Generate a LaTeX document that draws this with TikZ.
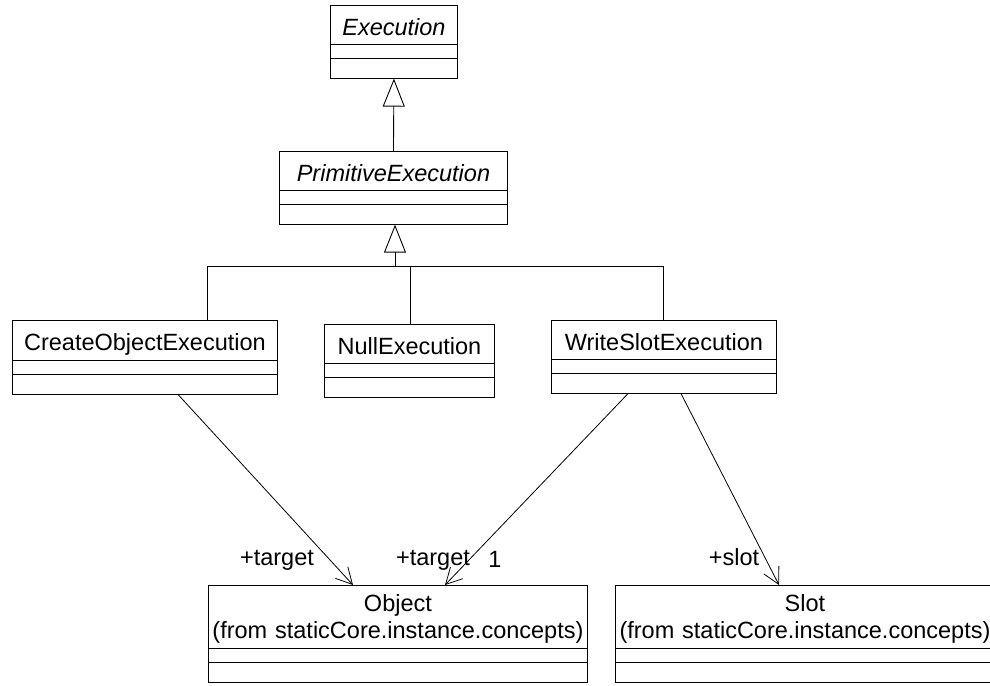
\documentclass[tikz,border=0pt]{standalone}
\usepackage{fontspec}
\setmainfont{Liberation Sans}
\usepackage{tikz}
\usetikzlibrary{arrows.meta, positioning, shapes.multipart}

% name compartment plus the two empty compartments
\newcommand{\classbody}[1]{#1\nodepart{two}\rule{0pt}{5pt}\nodepart{three}\rule{0pt}{11pt}}
\newcommand{\namestrut}{\rule[-4pt]{0pt}{30pt}}

\tikzset{
  umlclass/.style={rectangle split, rectangle split parts=3, draw, line width=0.9pt,
    anchor=north west, inner xsep=0pt, inner ysep=4pt, align=center},
  inherit/.style={-{Triangle[open, length=28pt, width=22pt]}, line width=0.9pt},
  assoc/.style={-{Straight Barb[length=16pt, width=17pt]}, line width=0.8pt},
  role/.style={anchor=base, inner sep=0pt}
}

\begin{document}
\begin{tikzpicture}[x=1pt, y=-1pt, font=\fontsize{23.5}{27}\selectfont]
  \useasboundingbox (0,0) rectangle (990,685);

  % abstract classes
  \node[umlclass, text width=127pt] (exe) at (330,5) {\classbody{\namestrut\itshape Execution}};
  \node[umlclass, text width=228pt] (prim) at (279,151) {\classbody{\namestrut\itshape PrimitiveExecution}};

  % concrete executions
  \node[umlclass, text width=265pt] (create) at (12,320) {\classbody{\namestrut CreateObjectExecution}};
  \node[umlclass, text width=170pt] (null) at (324,324) {\classbody{\namestrut NullExecution}};
  \node[umlclass, text width=225pt] (write) at (551,320) {\classbody{\namestrut WriteSlotExecution}};

  % classes from staticCore.instance.concepts
  \node[umlclass, text width=379pt] (obj) at (208,585)
    {\classbody{\rule{0pt}{22pt}Object\\(from staticCore.instance.concepts)}};
  \node[umlclass, text width=379pt] (slot) at (615,585)
    {\classbody{\rule{0pt}{22pt}Slot\\(from staticCore.instance.concepts)}};

  % generalisation
  \draw[inherit] (prim.north) -- (exe.south);

  \coordinate (stem) at (395,266);
  \coordinate (cj) at (207,266);
  \coordinate (nj) at (410,266);
  \coordinate (wj) at (663,266);
  \draw[inherit] (stem) -- (stem |- prim.south);
  \draw[line width=0.9pt] (cj) -- (wj);
  \draw[line width=0.9pt] (cj) -- (cj |- create.north);
  \draw[line width=0.9pt] (nj) -- (nj |- null.north);
  \draw[line width=0.9pt] (wj) -- (wj |- write.north);

  % associations
  \draw[assoc] ([xshift=166pt]create.south west) -- ([xshift=145pt]obj.north west);
  \draw[assoc] ([xshift=77pt]write.south west) -- ([xshift=237pt]obj.north west);
  \draw[assoc] ([xshift=130pt]write.south west) -- ([xshift=164pt]slot.north west);

  % role names
  \node[role] (tgtcreate) at (277,565) {+target};
  \node[role] (tgtwrite) at (433,565) {+target};
  \node[role] (mult) at (495,567) {1};
  \node[role] (slotrole) at (734,565) {+slot};
\end{tikzpicture}
\end{document}
